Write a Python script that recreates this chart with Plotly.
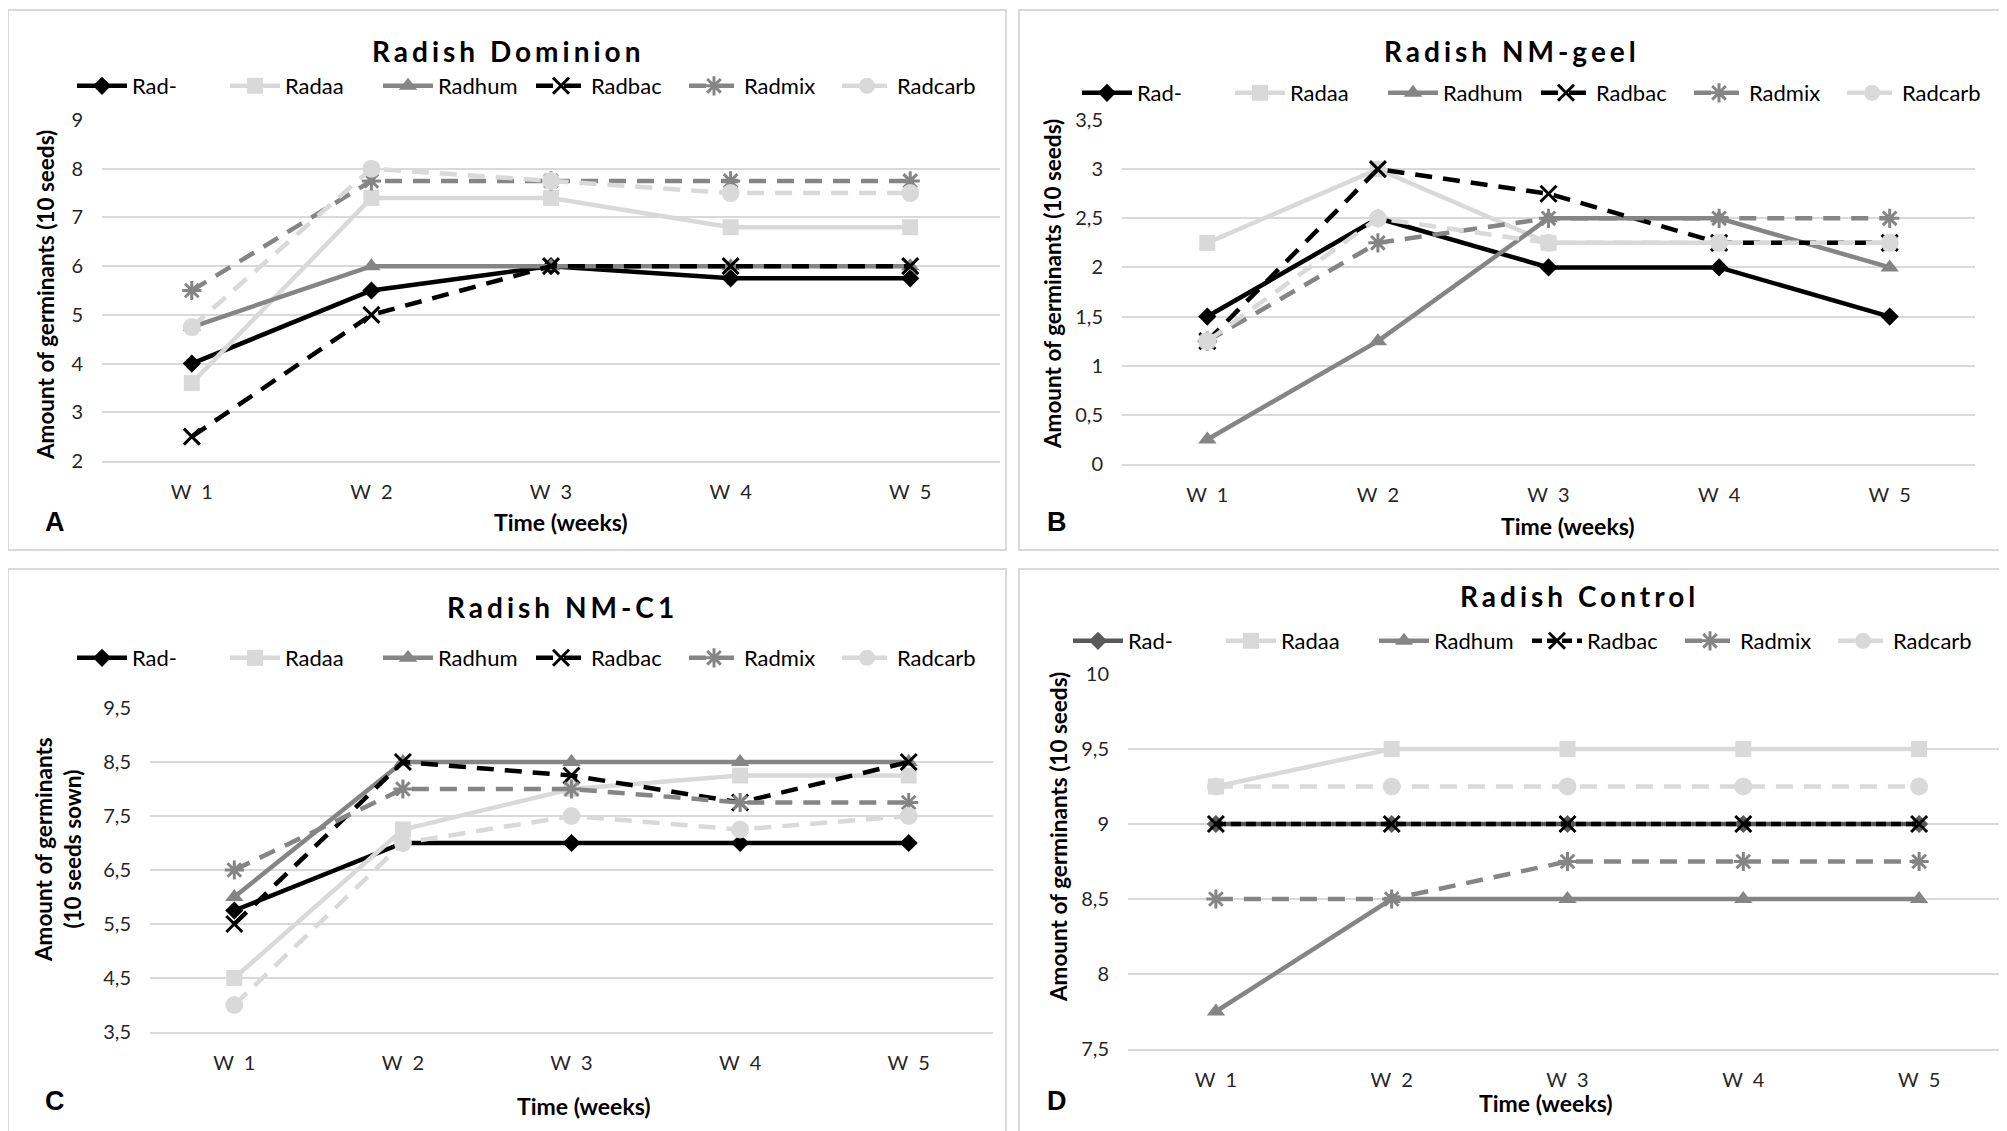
import plotly.graph_objects as go

W, H = 2007, 1131
PAGE_OFFSET = 8  # default body margin of the written html page

weeks = ["W\u00a0\u00a01", "W\u00a0\u00a02", "W\u00a0\u00a03", "W\u00a0\u00a04", "W\u00a0\u00a05"]
series_names = ["Rad-", "Radaa", "Radhum", "Radbac", "Radmix", "Radcarb"]

# Panel A - Radish Dominion
dominion_rad = [4, 5.5, 6, 5.75, 5.75]
dominion_radaa = [3.6, 7.4, 7.4, 6.8, 6.8]
dominion_radhum = [4.75, 6, 6, 6, 6]
dominion_radbac = [2.5, 5, 6, 6, 6]
dominion_radmix = [5.5, 7.75, 7.75, 7.75, 7.75]
dominion_radcarb = [4.75, 8, 7.75, 7.5, 7.5]

# Panel B - Radish NM-geel
geel_rad = [1.5, 2.5, 2, 2, 1.5]
geel_radaa = [2.25, 3, 2.25, 2.25, 2.25]
geel_radhum = [0.25, 1.25, 2.5, 2.5, 2]
geel_radbac = [1.25, 3, 2.75, 2.25, 2.25]
geel_radmix = [1.25, 2.25, 2.5, 2.5, 2.5]
geel_radcarb = [1.25, 2.5, 2.25, 2.25, 2.25]

# Panel C - Radish NM-C1
c1_rad = [5.75, 7, 7, 7, 7]
c1_radaa = [4.5, 7.25, 8, 8.25, 8.25]
c1_radhum = [6, 8.5, 8.5, 8.5, 8.5]
c1_radbac = [5.5, 8.5, 8.25, 7.75, 8.5]
c1_radmix = [6.5, 8, 8, 7.75, 7.75]
c1_radcarb = [4, 7, 7.5, 7.25, 7.5]

# Panel D - Radish Control
control_rad = [9, 9, 9, 9, 9]
control_radaa = [9.25, 9.5, 9.5, 9.5, 9.5]
control_radhum = [7.75, 8.5, 8.5, 8.5, 8.5]
control_radbac = [9, 9, 9, 9, 9]
control_radmix = [8.5, 8.5, 8.75, 8.75, 8.75]
control_radcarb = [9.25, 9.25, 9.25, 9.25, 9.25]


def fx(px):
    return (px - PAGE_OFFSET) / W


def fy(py):
    return 1 - (py - PAGE_OFFSET) / H


LIGHT = "#D9D9D9"
GRAY = "#858585"
BLACK = "#000000"
FONT = "Lato, 'Open Sans', sans-serif"

base_styles = [
    dict(color=BLACK, dash="solid", symbol="diamond", size=14),
    dict(color=LIGHT, dash="solid", symbol="square", size=16),
    dict(color=GRAY, dash="solid", symbol="triangle-up", size=16),
    dict(color=BLACK, dash="17px,11px", symbol="x-thin-open", size=16),
    dict(color=GRAY, dash="17px,11px", symbol="asterisk-open", size=16),
    dict(color=LIGHT, dash="17px,11px", symbol="circle", size=18),
]

panels = [
    dict(letter="A", title="Radish Dominion",
         data=[dominion_rad, dominion_radaa, dominion_radhum, dominion_radbac, dominion_radmix, dominion_radcarb],
         yrange=[2, 9], dtick=1, x0=102, x1=1000, y0=120, y1=461,
         box=(8, 10, 1006, 550), title_xy=(508, 51), legend_xy=(72, 86),
         xt_xy=(561, 522), yt_xy=(45, 295), ytitle="Amount of germinants (10 seeds)",
         letter_xy=(55, 522), overrides={}),
    dict(letter="B", title="Radish NM-geel",
         data=[geel_rad, geel_radaa, geel_radhum, geel_radbac, geel_radmix, geel_radcarb],
         yrange=[0, 3.5], dtick=0.5, x0=1122, x1=1975, y0=120, y1=464,
         box=(1019, 10, 2025, 550), title_xy=(1512, 51), legend_xy=(1077, 93),
         xt_xy=(1568, 526), yt_xy=(1052, 284), ytitle="Amount of germinants (10 seeds)",
         letter_xy=(1057, 522), overrides={}),
    dict(letter="C", title="Radish NM-C1",
         data=[c1_rad, c1_radaa, c1_radhum, c1_radbac, c1_radmix, c1_radcarb],
         yrange=[3.5, 9.5], dtick=1, x0=150, x1=993, y0=708, y1=1032,
         box=(8, 569, 1006, 1150), title_xy=(562, 607), legend_xy=(72, 658),
         xt_xy=(584, 1106), yt_xy=(58, 850), ytitle="Amount of germinants<br>(10 seeds sown)",
         letter_xy=(55, 1101), overrides={}),
    dict(letter="D", title="Radish Control",
         data=[control_rad, control_radaa, control_radhum, control_radbac, control_radmix, control_radcarb],
         yrange=[7.5, 10], dtick=0.5, x0=1128, x1=2007, y0=674, y1=1049,
         box=(1019, 569, 2025, 1150), title_xy=(1579, 596), legend_xy=(1068, 641),
         xt_xy=(1546, 1103), yt_xy=(1058, 837), ytitle="Amount of germinants (10 seeds)",
         letter_xy=(1057, 1101),
         overrides={0: dict(color="#595959"), 3: dict(dash="10px,5px")}),
]

fig = go.Figure()
layout = dict(
    width=W, height=H, margin=dict(l=0, r=0, t=0, b=0, autoexpand=False),
    paper_bgcolor="white", plot_bgcolor="white",
    separators=",.", font=dict(family=FONT, color="#000000"),
    shapes=[], annotations=[],
)

for i, p in enumerate(panels):
    n = "" if i == 0 else str(i + 1)
    xa, ya = "x" + n, "y" + n
    leg = "legend" + n
    for j, (name, vals) in enumerate(zip(series_names, p["data"])):
        st = dict(base_styles[j])
        st.update(p["overrides"].get(j, {}))
        open_sym = st["symbol"].endswith("open")
        fig.add_trace(go.Scatter(
            x=weeks, y=vals, name=name, mode="lines+markers",
            xaxis=xa, yaxis=ya, legend=leg, cliponaxis=False,
            line=dict(color=st["color"], width=4.5, dash=st["dash"]),
            marker=dict(symbol=st["symbol"], size=st["size"], color=st["color"],
                        line=dict(color=st["color"], width=3 if open_sym else 0)),
        ))
    layout["xaxis" + n] = dict(
        domain=[fx(p["x0"]), fx(p["x1"])], anchor=ya, type="category",
        range=[-0.5, 4.5], showgrid=False, showline=True, linecolor=LIGHT, linewidth=2,
        ticks="", tickfont=dict(family=FONT, size=20, color="#262626"),
        ticklabelstandoff=12, fixedrange=True,
    )
    layout["yaxis" + n] = dict(
        domain=[fy(p["y1"]), fy(p["y0"])], anchor=xa, range=p["yrange"],
        dtick=p["dtick"], tick0=p["yrange"][0], showgrid=True, gridcolor=LIGHT, gridwidth=2,
        zeroline=False, showline=False, ticks="",
        tickfont=dict(family=FONT, size=20, color="#262626"),
        ticklabelstandoff=18, fixedrange=True,
    )
    layout[leg] = dict(
        orientation="h", x=fx(p["legend_xy"][0]), y=fy(p["legend_xy"][1]),
        xanchor="left", yanchor="middle", bgcolor="rgba(0,0,0,0)",
        font=dict(family=FONT, size=22, color="#000000"),
        entrywidth=88, entrywidthmode="pixels", itemwidth=50, traceorder="normal",
    )
    bx0, by0, bx1, by1 = p["box"]
    layout["shapes"].append(dict(
        type="rect", xref="paper", yref="paper",
        x0=fx(bx0), x1=fx(bx1), y0=fy(by1), y1=fy(by0),
        line=dict(color=LIGHT, width=2), layer="below",
    ))
    layout["annotations"] += [
        dict(text='<span style="letter-spacing:4px">%s</span>' % p["title"], xref="paper", yref="paper",
             x=fx(p["title_xy"][0]), y=fy(p["title_xy"][1]), showarrow=False,
             xanchor="center", yanchor="middle",
             font=dict(family=FONT, size=28, color="#000000", weight="bold")),
        dict(text="Time (weeks)", xref="paper", yref="paper",
             x=fx(p["xt_xy"][0]), y=fy(p["xt_xy"][1]), showarrow=False,
             xanchor="center", yanchor="middle",
             font=dict(family=FONT, size=23, color="#000000", weight="bold")),
        dict(text=p["ytitle"], xref="paper", yref="paper", textangle=-90,
             x=fx(p["yt_xy"][0]), y=fy(p["yt_xy"][1]), showarrow=False,
             xanchor="center", yanchor="middle",
             font=dict(family=FONT, size=22.5, color="#000000", weight="bold")),
        dict(text=p["letter"], xref="paper", yref="paper",
             x=fx(p["letter_xy"][0]), y=fy(p["letter_xy"][1]), showarrow=False,
             xanchor="center", yanchor="middle",
             font=dict(family="'Liberation Sans', Arial, sans-serif", size=27, color="#000000", weight="bold")),
    ]

fig.update_layout(**layout)
fig.write_html("out.html")
